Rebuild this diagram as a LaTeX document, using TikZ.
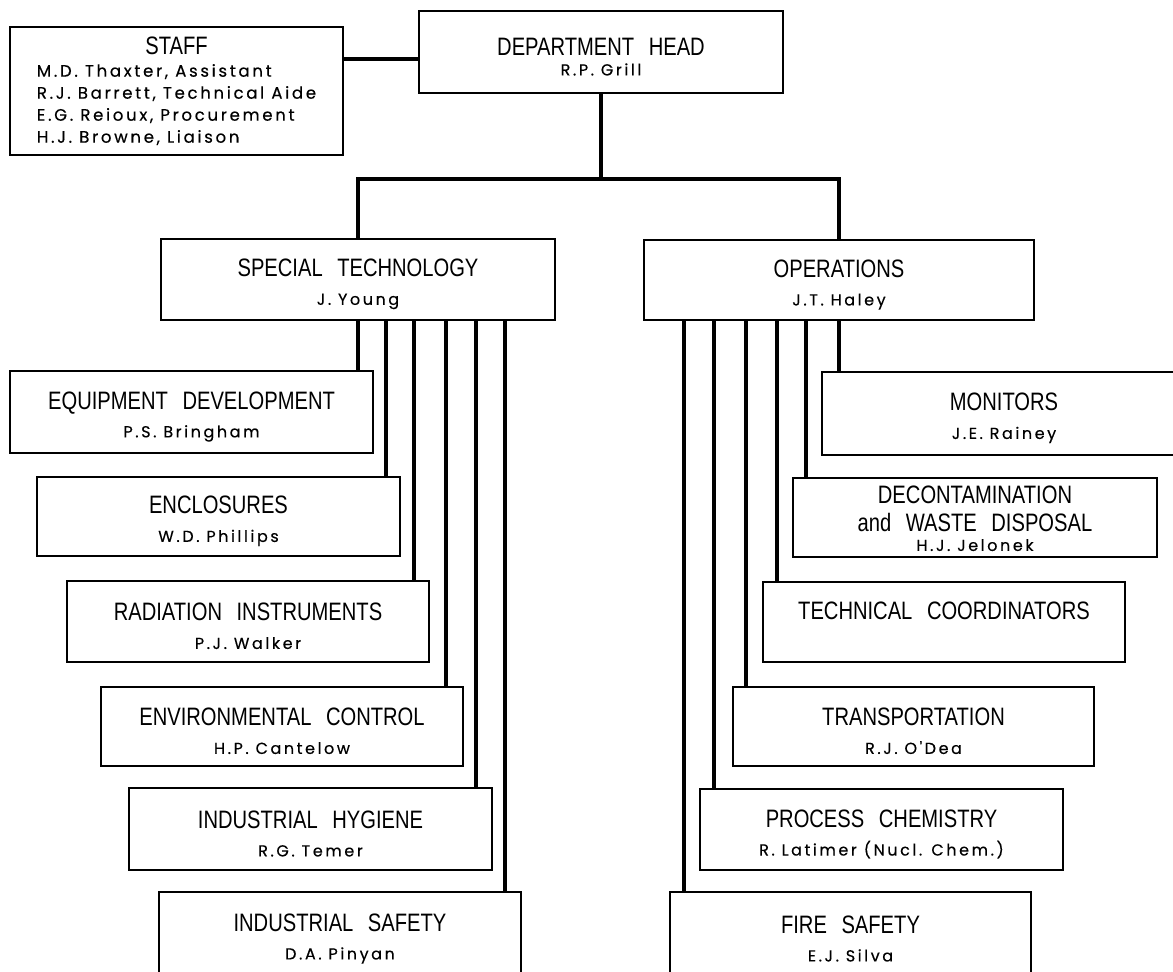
\documentclass[tikz,border=0pt]{standalone}
\usepackage{fontspec}
\usepackage{tikz}
\newfontfamily\headfont[FakeStretch=0.8,WordSpace=2.6]{Liberation Sans}
\newfontfamily\namefont[LetterSpace=16,FakeBold=0.3]{Poppins}
\newcommand{\person}[1]{{\namefont\fontsize{8}{10}\selectfont #1}}
\newcommand{\hdstrut}{\rule{0pt}{13.5pt}}

\begin{document}
\begin{tikzpicture}[x=0.5pt,y=-0.5pt]
    \tikzstyle{unit}=[draw, line width=1.15pt, align=center, inner sep=0pt,
                      font=\headfont\fontsize{12.6}{14}\selectfont]
    \tikzstyle{link}=[line width=1.9pt]
    \useasboundingbox (0,0) rectangle (1173,971);
    \fill[white] (0,0) rectangle (1173,971);
    \clip (0,0) rectangle (1173,971);

    % top
    \node[unit, minimum width=166.5pt, minimum height=64pt] (staff) at (176.5,91)
      {\rule{0pt}{11pt}STAFF\\[-3pt]
       {\namefont\fontsize{8.3}{11}\selectfont\begin{tabular}[t]{@{}l@{}}
        M.D. Thaxter, Assistant\\
        R.J. Barrett, Technical Aide\\
        E.G. Reioux, Procurement\\
        H.J. Browne, Liaison
       \end{tabular}}};
    \node[unit, minimum width=182pt, minimum height=41pt] (head) at (601,52)
      {\hdstrut DEPARTMENT HEAD\\[-4pt]\person{R.P. Grill}};
    \node[unit, minimum width=197pt, minimum height=40.5pt] (spectech) at (358,279.5)
      {\hdstrut SPECIAL TECHNOLOGY\\\person{J. Young}};
    \node[unit, minimum width=195pt, minimum height=40pt] (ops) at (839,280)
      {\hdstrut OPERATIONS\\\person{J.T. Haley}};

    % special technology groups
    \node[unit, minimum width=181.5pt, minimum height=41pt] (eqdev) at (191.5,412)
      {\hdstrut EQUIPMENT DEVELOPMENT\\\person{P.S. Bringham}};
    \node[unit, minimum width=181.5pt, minimum height=39.5pt] (encl) at (218.5,516.5)
      {\hdstrut ENCLOSURES\\\person{W.D. Phillips}};
    \node[unit, minimum width=181pt, minimum height=40.5pt] (radinst) at (248,621.5)
      {\hdstrut RADIATION INSTRUMENTS\\\person{P.J. Walker}};
    \node[unit, minimum width=181pt, minimum height=39.5pt] (envctl) at (282,726.5)
      {\hdstrut ENVIRONMENTAL CONTROL\\\person{H.P. Cantelow}};
    \node[unit, minimum width=181.5pt, minimum height=41pt] (indhyg) at (310.5,829)
      {\hdstrut INDUSTRIAL HYGIENE\\\person{R.G. Temer}};
    \node[unit, minimum width=181pt, minimum height=42pt] (indsaf) at (340,934)
      {\hdstrut INDUSTRIAL SAFETY\\\person{D.A. Pinyan}};

    % operations groups
    \node[unit, minimum width=182pt, minimum height=41.5pt] (monitors) at (1004,413.5)
      {\hdstrut MONITORS\\\person{J.E. Rainey}};
    \node[unit, minimum width=182pt, minimum height=39.5pt] (decon) at (975,517.5)
      {\rule{0pt}{10pt}DECONTAMINATION\\and WASTE DISPOSAL\\[-4.5pt]\person{H.J. Jelonek}};
    \node[unit, minimum width=181pt, minimum height=40pt] (techco) at (944,622)
      {\rule{0pt}{11pt}TECHNICAL COORDINATORS\\\person{\phantom{X}}};
    \node[unit, minimum width=180.5pt, minimum height=39.5pt] (transp) at (913.5,726.5)
      {\hdstrut TRANSPORTATION\\\person{R.J. O'Dea}};
    \node[unit, minimum width=181.5pt, minimum height=40.5pt] (procchem) at (881.5,829.5)
      {\hdstrut PROCESS CHEMISTRY\\\person{R. Latimer (Nucl. Chem.)}};
    \node[unit, minimum width=180.5pt, minimum height=42pt] (firesaf) at (850.5,934)
      {\hdstrut FIRE SAFETY\\\person{E.J. Silva}};

    % tap points
    \coordinate (sj) at (0,59);
    \coordinate (bar) at (0,179);
    \coordinate (st2) at ([xshift=14pt]spectech.south);
    \coordinate (st3) at ([xshift=28pt]spectech.south);
    \coordinate (st4) at ([xshift=44pt]spectech.south);
    \coordinate (st5) at ([xshift=59pt]spectech.south);
    \coordinate (st6) at ([xshift=73.5pt]spectech.south);
    \coordinate (op2) at ([xshift=-16.5pt]ops.south);
    \coordinate (op3) at ([xshift=-31pt]ops.south);
    \coordinate (op4) at ([xshift=-46.5pt]ops.south);
    \coordinate (op5) at ([xshift=-62.5pt]ops.south);
    \coordinate (op6) at ([xshift=-77.5pt]ops.south);

    \draw[link] (staff.east |- sj) -- (head.west |- sj);
    \draw[link] (head.south) -- (head.south |- bar);
    \draw[link] (spectech.north) |- (head.south |- bar) -| (ops.north);

    \draw[link] (spectech.south) -- (spectech.south |- eqdev.north);
    \draw[link] (st2) -- (st2 |- encl.north);
    \draw[link] (st3) -- (st3 |- radinst.north);
    \draw[link] (st4) -- (st4 |- envctl.north);
    \draw[link] (st5) -- (st5 |- indhyg.north);
    \draw[link] (st6) -- (st6 |- indsaf.north);

    \draw[link] (ops.south) -- (ops.south |- monitors.north);
    \draw[link] (op2) -- (op2 |- decon.north);
    \draw[link] (op3) -- (op3 |- techco.north);
    \draw[link] (op4) -- (op4 |- transp.north);
    \draw[link] (op5) -- (op5 |- procchem.north);
    \draw[link] (op6) -- (op6 |- firesaf.north);
\end{tikzpicture}
\end{document}
